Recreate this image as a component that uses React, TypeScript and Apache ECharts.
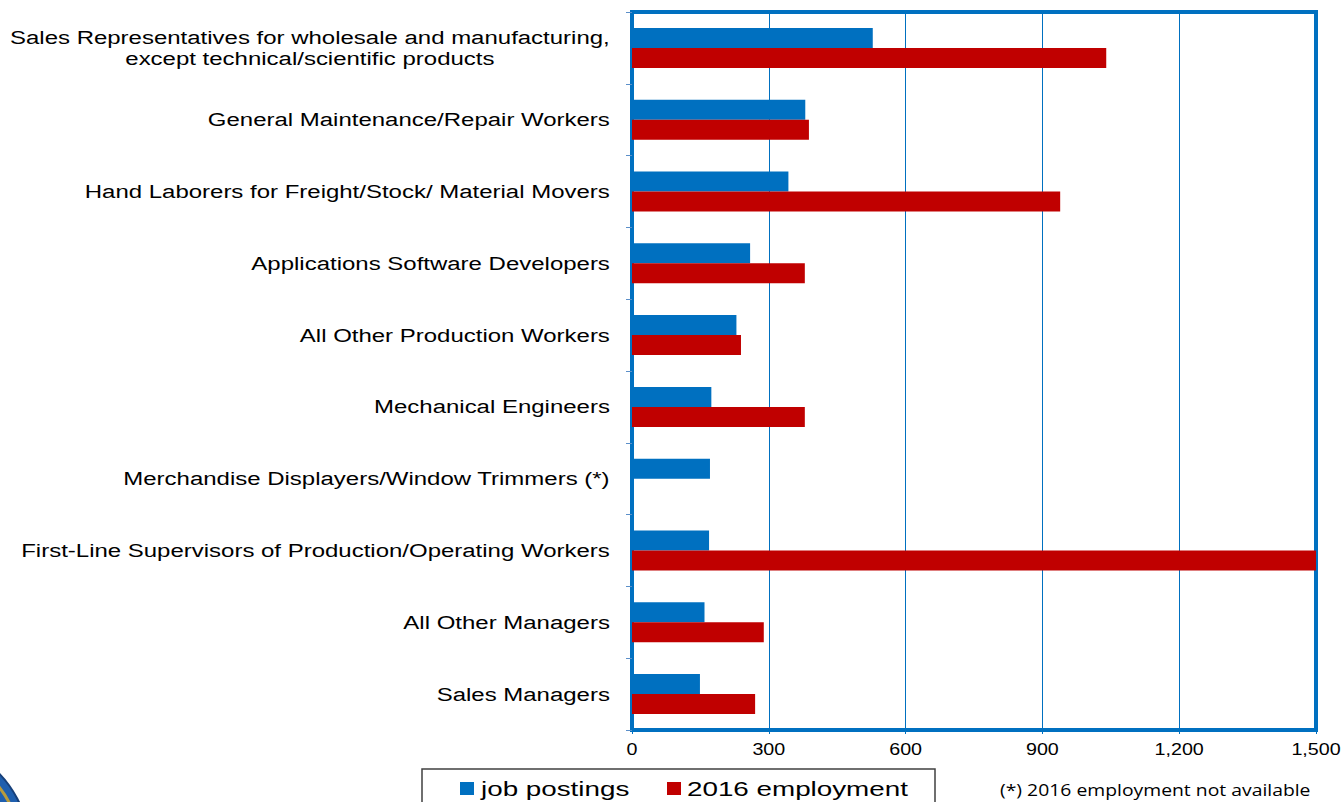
import React, { useEffect, useRef } from "react";
import * as echarts from "echarts";

const categories = [
  "Sales Representatives for wholesale and manufacturing,\nexcept technical/scientific products",
  "General Maintenance/Repair Workers",
  "Hand Laborers for Freight/Stock/ Material Movers",
  "Applications Software Developers",
  "All Other Production Workers",
  "Mechanical Engineers",
  "Merchandise Displayers/Window Trimmers (*)",
  "First-Line Supervisors of Production/Operating Workers",
  "All Other Managers",
  "Sales Managers",
];
const jobPostings = [528, 380, 343, 259, 229, 174, 171, 169, 159, 149];
const employment2016: (number | null)[] = [1040, 388, 939, 379, 239, 379, null, 1500, 289, 270];
const xTicks = [0, 300, 600, 900, 1200, 1500];
const seriesNames = ["job postings", "2016 employment"];
const footnote = "(*) 2016 employment not available";

const BLUE = "#0070C0";
const RED = "#C00000";
const FONT = "'Liberation Sans', Arial, sans-serif";

export default function App() {
  const ref = useRef<HTMLDivElement>(null);
  useEffect(() => {
    if (!ref.current) return;
    const chart = echarts.init(ref.current, undefined, { renderer: "svg" });
    chart.setOption({
      animation: false,
      backgroundColor: "#ffffff",
      grid: {
        left: 632,
        right: 27,
        top: 12,
        bottom: 72,
        show: true,
        borderColor: BLUE,
        borderWidth: 4,
        containLabel: false,
      },
      xAxis: {
        type: "value",
        min: xTicks[0],
        max: xTicks[xTicks.length - 1],
        interval: 300,
        axisLine: { show: true, lineStyle: { color: BLUE, width: 4 } },
        axisTick: { show: true, length: 4, lineStyle: { color: BLUE } },
        splitLine: { show: true, lineStyle: { color: BLUE, width: 1 } },
        axisLabel: { show: false },
      },
      yAxis: {
        type: "category",
        data: categories,
        inverse: true,
        axisLine: { show: true, lineStyle: { color: BLUE, width: 4 } },
        axisTick: { show: true, length: 6, lineStyle: { color: "#5b8fc9" } },
        splitLine: { show: false },
        axisLabel: { show: false },
      },
      series: [
        {
          name: seriesNames[0],
          type: "bar",
          data: jobPostings,
          barWidth: 20,
          barGap: "0%",
          itemStyle: { color: BLUE },
        },
        {
          name: seriesNames[1],
          type: "bar",
          data: employment2016,
          barWidth: 20,
          barGap: "0%",
          itemStyle: { color: RED },
        },
      ],
    });

    const graphics: any[] = [];
    // logo fragment
    graphics.push(
      {
        type: "circle",
        shape: { cx: -80, cy: 850, r: 110 },
        style: { fill: "#1f5fae", stroke: "#17407a", lineWidth: 2 },
        silent: true,
      },
      {
        type: "circle",
        shape: { cx: -80, cy: 850, r: 101 },
        style: { fill: "none", stroke: "#b89b3c", lineWidth: 3 },
        silent: true,
      }
    );
    // category labels
    categories.forEach((c) => {
      const y = chart.convertToPixel({ yAxisIndex: 0 }, c) as number;
      const text = c
        .split("\n")
        .map((l) => `{c|${l}}`)
        .join("\n");
      graphics.push({
        type: "text",
        x: 610,
        y,
        scaleX: 1.263,
        style: {
          text,
          align: "right",
          verticalAlign: "middle",
          rich: {
            c: { fontFamily: FONT, fontSize: 19, fill: "#000", align: "center", lineHeight: 21 },
          },
        },
      });
    });
    // x tick labels
    xTicks.forEach((t) => {
      const x = chart.convertToPixel({ xAxisIndex: 0 }, t) as number;
      graphics.push({
        type: "text",
        x,
        y: 750,
        scaleX: 1.23,
        style: {
          text: t.toLocaleString("en-US"),
          fontFamily: FONT,
          fontSize: 16,
          fill: "#000",
          align: "center",
          verticalAlign: "middle",
        },
      });
    });
    // legend
    graphics.push(
      {
        type: "rect",
        shape: { x: 422, y: 769, width: 513, height: 50 },
        style: { fill: "#fff", stroke: "#404040", lineWidth: 1.5 },
      },
      { type: "rect", shape: { x: 460, y: 782, width: 14, height: 13 }, style: { fill: BLUE } },
      {
        type: "text",
        x: 481,
        y: 789,
        scaleX: 1.39,
        style: { text: seriesNames[0], fontFamily: FONT, fontSize: 20, fill: "#000", align: "left", verticalAlign: "middle" },
      },
      { type: "rect", shape: { x: 667, y: 782, width: 14, height: 13 }, style: { fill: RED } },
      {
        type: "text",
        x: 687,
        y: 789,
        scaleX: 1.39,
        style: { text: seriesNames[1], fontFamily: FONT, fontSize: 20, fill: "#000", align: "left", verticalAlign: "middle" },
      },
      {
        type: "text",
        x: 1000,
        y: 790,
        scaleX: 1.21,
        style: {
          text: footnote,
          fontFamily: "'Open Sans', sans-serif",
          fontSize: 16,
          fill: "#000",
          align: "left",
          verticalAlign: "middle",
        },
      }
    );
    chart.setOption({ graphic: graphics });
    return () => chart.dispose();
  }, []);
  return <div ref={ref} style={{ width: 1343, height: 802, position: "fixed", left: 0, top: 0 }} />;
}
